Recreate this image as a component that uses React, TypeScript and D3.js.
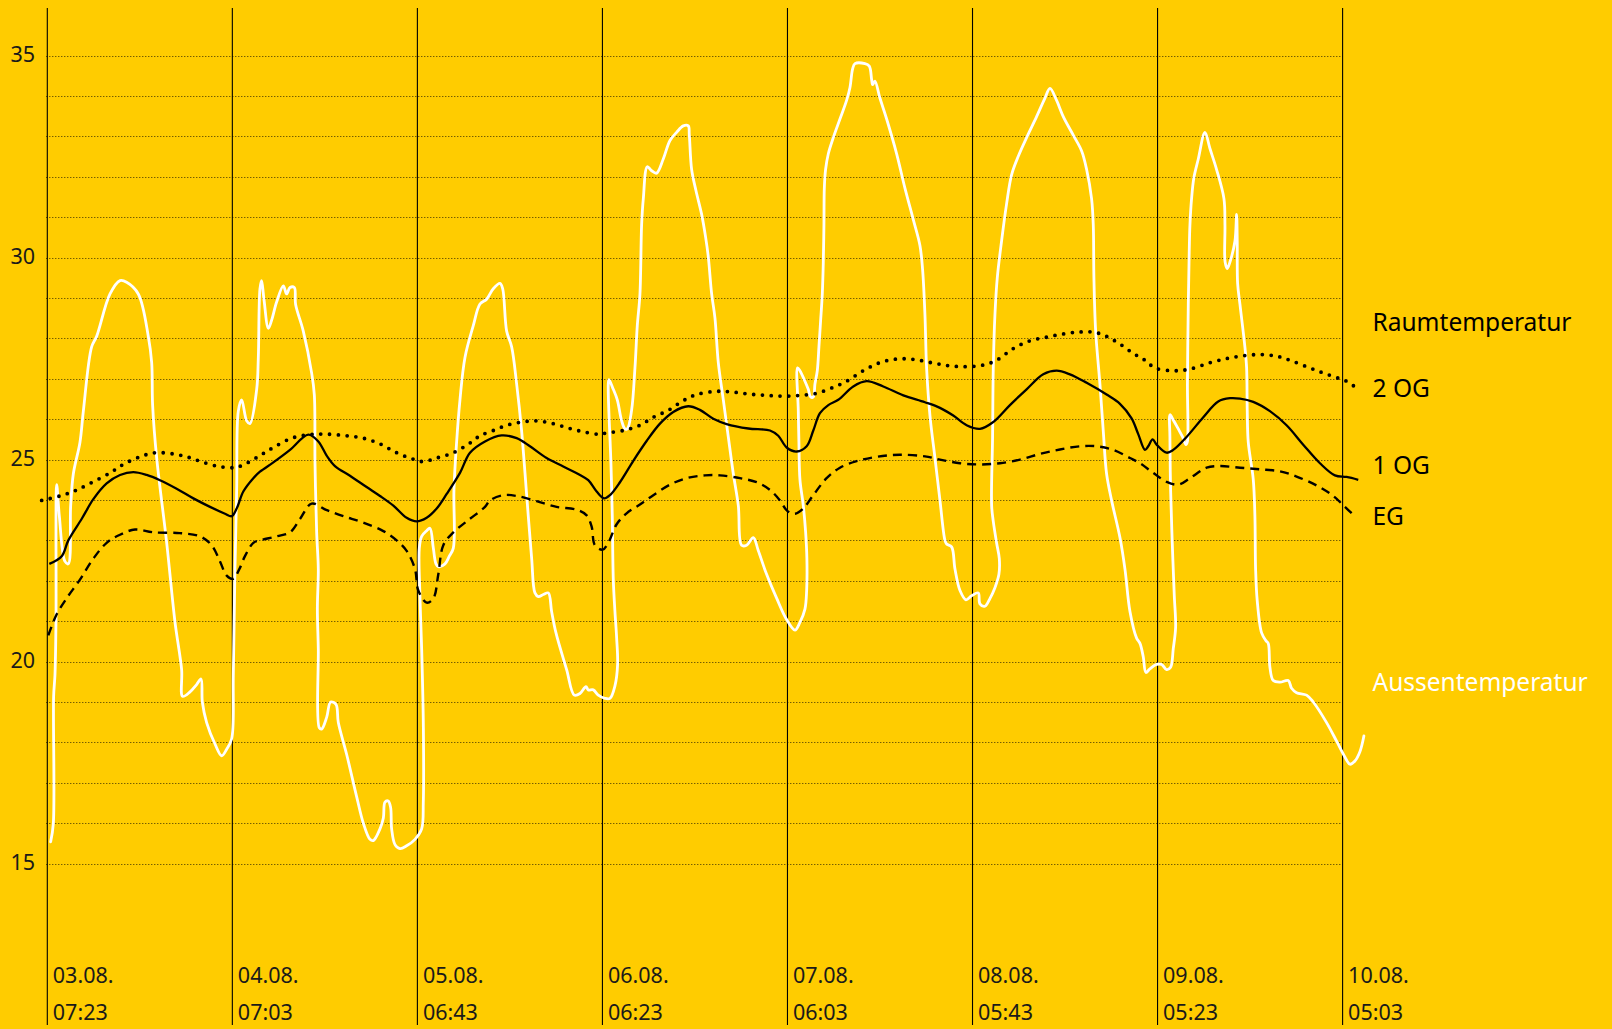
import React from "react";
import * as d3 from "d3";

// Time axis: hours after 03.08. 07:23
const START = new Date(2015, 7, 3, 7, 23);
const TICK_STEP_MIN = 23 * 60 + 40; // 23h40m between labelled lines
const TICK_COUNT = 8;
const yTickLabels = [15, 20, 25, 30, 35];
const yGridValues = d3.range(15, 36);

// Aussentemperatur [hours, °C]
const aussen: [number, number][] = [
  [0.43, 15.54], [0.77, 15.99], [0.81, 19.14], [0.98, 19.67], [1.11, 20.98], [1.2, 24.38],
  [1.54, 23.6], [2.26, 22.48], [2.69, 22.42], [2.99, 23.86], [3.33, 24.65], [4.18, 25.43],
  [4.61, 26.2], [5.67, 27.79], [6.31, 28.05], [8.02, 29.1], [9.3, 29.43], [10.15, 29.39],
  [11.64, 29.1], [12.92, 28.05], [13.35, 27.4], [13.47, 26.35], [13.99, 25.04], [15.27, 22.94],
  [16.33, 20.98], [17.18, 19.8], [17.31, 19.14], [18.25, 19.25], [19.1, 19.43], [19.66, 19.57],
  [19.83, 19.0], [20.38, 18.49], [21.45, 17.96], [22.3, 17.67], [22.94, 17.83], [23.58, 18.09],
  [23.79, 19.67], [24.0, 22.29], [24.22, 24.25], [24.43, 26.2], [24.86, 26.48], [25.5, 25.96],
  [25.92, 25.89], [26.78, 26.74], [26.99, 27.53], [27.2, 29.23], [27.41, 29.43], [27.71, 28.97],
  [28.27, 28.25], [28.69, 28.45], [29.33, 28.9], [30.19, 29.3], [30.61, 29.1], [31.04, 29.26],
  [31.59, 29.26], [31.76, 28.84], [32.74, 28.18], [33.81, 27.14], [34.15, 26.61], [34.24, 24.9],
  [34.45, 23.2], [34.66, 22.29], [34.54, 21.3], [34.66, 20.32], [34.79, 18.36], [35.09, 18.33],
  [35.73, 18.62], [36.24, 19.0], [36.92, 18.94], [37.22, 18.49], [38.29, 17.7], [39.57, 16.65],
  [40.42, 16.0], [41.27, 15.6], [41.7, 15.57], [42.55, 15.86], [42.98, 16.13], [43.19, 16.52],
  [43.61, 16.55], [43.91, 16.39], [44.04, 15.86], [44.47, 15.47], [45.11, 15.37], [45.96, 15.44],
  [47.03, 15.6], [47.88, 15.86], [48.09, 16.52], [48.1, 18.36], [47.88, 20.32], [47.66, 21.63],
  [47.58, 22.81], [47.88, 23.1], [48.52, 23.24], [48.94, 23.3], [49.37, 22.81], [49.71, 22.42],
  [50.01, 22.35], [50.86, 22.42], [51.42, 22.61], [51.93, 22.81], [52.01, 24.25], [52.35, 25.43],
  [52.78, 26.48], [53.42, 27.53], [54.49, 28.32], [55.34, 28.85], [56.19, 28.97], [57.04, 29.23],
  [57.9, 29.36], [58.24, 29.23], [58.75, 28.18], [59.39, 27.79], [60.03, 26.87], [60.67, 25.7],
  [61.31, 24.12], [61.95, 22.55], [62.37, 21.7], [62.8, 21.61], [63.44, 21.66], [64.08, 21.7],
  [64.5, 21.24], [65.06, 20.71], [66.42, 19.8], [67.4, 19.17], [68.13, 19.21], [68.89, 19.38],
  [69.19, 19.3], [69.83, 19.3], [70.47, 19.17], [71.32, 19.09], [71.96, 19.09], [72.6, 19.4],
  [72.94, 19.93], [72.82, 20.58], [72.6, 21.24], [72.39, 22.03], [72.26, 23.6], [72.09, 24.9],
  [71.75, 26.87], [71.84, 26.98], [72.39, 26.74], [72.9, 26.48], [73.46, 25.96], [73.88, 25.76],
  [74.18, 25.76], [74.73, 26.22], [75.16, 27.27], [75.46, 28.32], [75.8, 29.1], [76.01, 30.8],
  [76.23, 31.46], [76.74, 32.25], [77.29, 32.15], [77.93, 32.09], [78.78, 32.44], [79.64, 32.9],
  [80.49, 33.1], [81.34, 33.26], [81.98, 33.26], [82.11, 33.04], [82.41, 32.18], [82.96, 31.66],
  [83.69, 31.07], [84.2, 30.5], [84.54, 30.02], [84.97, 29.1], [85.39, 28.51], [85.82, 27.4],
  [86.46, 26.48], [87.1, 25.56], [87.74, 24.65], [88.38, 23.86], [88.8, 22.88], [89.44, 22.88],
  [90.3, 23.07], [90.93, 22.75], [92.0, 22.16], [93.28, 21.57], [94.56, 21.04], [95.62, 20.78],
  [96.26, 20.97], [96.9, 21.3], [97.12, 21.76], [97.15, 22.55], [96.99, 23.2], [96.69, 23.86],
  [96.26, 24.51], [96.13, 25.43], [96.05, 26.22], [95.96, 27.27], [96.26, 27.2], [96.9, 26.94],
  [97.33, 26.74], [97.63, 26.55], [97.97, 26.55], [98.18, 26.87], [98.48, 27.2], [98.69, 27.79],
  [98.91, 28.45], [99.12, 29.1], [99.25, 29.89], [99.33, 30.8], [99.38, 31.72], [99.54, 32.18],
  [99.89, 32.57], [100.53, 32.97], [101.38, 33.43], [102.23, 33.89], [102.66, 34.21], [103.0, 34.67],
  [103.3, 34.8], [104.58, 34.8], [105.13, 34.74], [105.43, 34.41], [105.56, 34.28], [105.85, 34.37],
  [106.49, 33.95], [107.35, 33.43], [108.63, 32.57], [109.69, 31.72], [110.76, 30.94], [111.61, 30.3],
  [111.95, 29.7], [112.25, 28.58], [112.46, 27.27], [112.89, 26.09], [113.53, 25.04], [114.17, 23.99],
  [114.81, 23.0], [115.02, 22.91], [115.66, 22.84], [116.09, 22.29], [116.73, 21.76], [117.49, 21.53],
  [118.22, 21.63], [119.07, 21.7], [119.28, 21.43], [119.92, 21.37], [120.56, 21.56], [121.2, 21.83],
  [121.71, 22.16], [121.76, 22.55], [121.41, 22.94], [120.99, 23.47], [120.78, 23.86], [120.9, 25.56],
  [120.99, 27.27], [121.2, 28.58], [121.5, 29.5], [122.05, 30.41], [122.69, 31.33], [123.33, 32.05],
  [124.19, 32.51], [125.25, 32.97], [126.53, 33.49], [127.6, 33.95], [128.24, 34.19], [129.09, 33.89],
  [129.94, 33.49], [131.22, 33.03], [132.29, 32.64], [132.93, 32.18], [133.56, 31.46], [133.78, 30.8],
  [133.86, 29.5], [134.08, 28.19], [134.63, 26.87], [135.06, 25.7], [135.48, 24.65], [136.12, 23.99],
  [137.19, 23.07], [137.83, 22.29], [138.47, 21.24], [139.32, 20.58], [139.75, 20.45], [140.17, 20.12],
  [140.51, 19.73], [141.02, 19.82], [141.88, 19.93], [142.52, 19.93], [143.16, 19.8], [143.67, 19.86],
  [144.01, 20.32], [144.31, 20.85], [144.14, 21.63], [143.88, 22.94], [143.67, 24.25], [143.58, 25.56],
  [143.6, 26.11], [144.01, 25.98], [144.65, 25.76], [145.2, 25.56], [145.63, 25.37], [145.8, 25.43],
  [145.82, 26.87], [145.93, 28.84], [146.05, 30.15], [146.14, 30.8], [146.35, 31.46], [146.65, 31.98],
  [147.21, 32.44], [148.06, 33.1], [148.7, 32.7], [149.55, 32.18], [150.49, 31.46], [150.62, 30.8],
  [150.64, 29.89], [150.92, 29.73], [151.26, 29.89], [151.9, 30.41], [152.11, 31.07], [152.19, 30.41],
  [152.24, 29.36], [152.54, 28.84], [153.17, 27.79], [153.39, 27.27], [153.47, 26.22], [153.6, 25.43],
  [154.24, 24.51], [154.45, 23.6], [154.54, 22.29], [154.75, 21.5], [155.31, 20.71], [155.86, 20.52],
  [156.16, 20.45], [156.37, 19.86], [156.8, 19.53], [157.65, 19.49], [158.72, 19.53], [159.14, 19.34],
  [159.78, 19.23], [161.06, 19.17], [161.91, 19.0], [163.62, 18.49], [164.9, 18.03], [165.96, 17.64],
  [166.6, 17.46], [167.24, 17.54], [167.88, 17.77], [168.39, 18.16],
];

// Raumtemperatur 2 OG [hours, °C]
const og2: [number, number][] = [
  [-0.72, 23.99], [1.62, 24.1], [3.54, 24.23], [5.46, 24.41], [8.02, 24.67], [9.72, 24.88],
  [11.86, 25.07], [13.77, 25.17], [16.12, 25.14], [17.82, 25.07], [19.53, 24.96], [21.66, 24.84],
  [23.36, 24.8], [24.22, 24.81], [25.5, 24.91], [27.2, 25.1], [28.91, 25.3], [31.25, 25.53],
  [33.6, 25.62], [35.73, 25.63], [38.29, 25.59], [40.42, 25.53], [42.55, 25.39], [44.68, 25.17],
  [46.81, 25.01], [48.09, 24.95], [49.8, 25.04], [51.93, 25.17], [54.06, 25.41], [55.34, 25.59],
  [57.04, 25.72], [58.75, 25.85], [60.67, 25.93], [62.59, 25.96], [64.72, 25.89], [66.64, 25.78],
  [68.55, 25.69], [70.47, 25.63], [71.54, 25.66], [73.67, 25.72], [75.8, 25.85], [77.51, 26.05],
  [79.42, 26.22], [81.34, 26.46], [83.05, 26.61], [85.61, 26.69], [87.74, 26.67], [89.87, 26.62],
  [92.0, 26.59], [94.13, 26.57], [96.26, 26.59], [98.39, 26.64], [100.53, 26.79], [102.23, 26.94],
  [104.36, 27.2], [106.49, 27.4], [108.63, 27.49], [110.76, 27.48], [113.32, 27.39], [115.45, 27.32],
  [117.58, 27.3], [119.71, 27.34], [121.41, 27.46], [123.55, 27.75], [125.68, 27.94], [127.81, 28.03],
  [129.94, 28.11], [132.07, 28.16], [133.99, 28.15], [135.48, 28.05], [137.19, 27.86], [138.89, 27.63],
  [140.39, 27.46], [141.66, 27.27], [144.01, 27.2], [146.14, 27.24], [148.7, 27.4], [150.83, 27.5],
  [152.96, 27.57], [155.09, 27.6], [157.22, 27.56], [158.93, 27.46], [161.06, 27.3], [162.98, 27.16],
  [164.9, 27.03], [166.18, 26.94], [167.37, 26.78],
];

// Raumtemperatur 1 OG [hours, °C]
const og1: [number, number][] = [
  [0.26, 22.42], [1.84, 22.61], [2.69, 23.0], [4.39, 23.53], [5.89, 24.02], [7.59, 24.41],
  [9.3, 24.62], [11.0, 24.69], [12.71, 24.62], [14.41, 24.49], [16.54, 24.28], [18.68, 24.04],
  [20.81, 23.83], [22.73, 23.66], [23.58, 23.6], [24.22, 23.79], [25.07, 24.21], [26.35, 24.54],
  [27.2, 24.7], [28.91, 24.93], [31.04, 25.24], [33.38, 25.62], [34.66, 25.45], [35.73, 25.1],
  [36.79, 24.84], [38.71, 24.6], [40.84, 24.32], [42.55, 24.1], [44.26, 23.86], [45.96, 23.56],
  [47.24, 23.47], [48.52, 23.56], [49.8, 23.79], [51.08, 24.15], [52.78, 24.67], [54.06, 25.17],
  [55.98, 25.45], [58.11, 25.6], [60.03, 25.53], [61.73, 25.33], [63.86, 25.04], [65.99, 24.83],
  [68.13, 24.62], [69.19, 24.49], [70.26, 24.21], [71.2, 24.04], [71.96, 24.12], [73.24, 24.44],
  [74.95, 24.97], [76.65, 25.46], [78.36, 25.89], [80.06, 26.18], [81.98, 26.32], [83.47, 26.23],
  [85.18, 26.01], [86.88, 25.88], [89.66, 25.77], [92.43, 25.72], [93.49, 25.59], [94.56, 25.3],
  [95.84, 25.2], [97.12, 25.33], [97.97, 25.72], [98.82, 26.15], [99.89, 26.35], [101.17, 26.48],
  [103.08, 26.81], [104.79, 26.94], [106.92, 26.81], [109.48, 26.59], [112.25, 26.42], [114.17, 26.28],
  [115.87, 26.09], [117.58, 25.85], [119.28, 25.76], [120.99, 25.93], [123.12, 26.35], [125.25, 26.74],
  [127.38, 27.11], [129.09, 27.2], [130.79, 27.11], [132.93, 26.9], [135.48, 26.61], [137.19, 26.38],
  [138.68, 26.02], [139.53, 25.63], [140.39, 25.24], [140.81, 25.33], [141.37, 25.5], [141.88, 25.37],
  [143.16, 25.17], [144.01, 25.24], [145.71, 25.56], [147.85, 26.05], [149.76, 26.44], [151.26, 26.52],
  [152.54, 26.51], [154.24, 26.43], [156.37, 26.2], [158.5, 25.85], [160.63, 25.37], [162.77, 24.91],
  [164.68, 24.61], [166.18, 24.57], [167.67, 24.5],
];

// Raumtemperatur EG [hours, °C]
const eg: [number, number][] = [
  [0.13, 20.65], [1.2, 21.17], [2.48, 21.57], [4.18, 22.03], [5.89, 22.55], [7.59, 22.94],
  [9.3, 23.14], [11.22, 23.27], [13.56, 23.2], [16.97, 23.18], [19.53, 23.1], [21.02, 22.88],
  [22.09, 22.48], [22.94, 22.13], [23.79, 22.05], [24.56, 22.29], [25.28, 22.61], [26.35, 22.94],
  [27.2, 23.0], [29.33, 23.1], [31.04, 23.2], [32.32, 23.53], [33.81, 23.91], [35.73, 23.75],
  [37.86, 23.6], [40.42, 23.44], [42.98, 23.23], [44.68, 23.0], [45.96, 22.74], [47.03, 22.29],
  [47.45, 21.76], [48.52, 21.46], [49.37, 21.56], [50.01, 22.16], [50.65, 22.88], [51.93, 23.2],
  [53.63, 23.47], [55.98, 23.83], [56.62, 23.99], [58.32, 24.12], [60.03, 24.1], [62.59, 23.97],
  [65.14, 23.83], [67.7, 23.76], [68.98, 23.62], [69.62, 23.34], [70.04, 22.88], [71.03, 22.77],
  [71.75, 22.94], [72.82, 23.4], [74.09, 23.67], [75.8, 23.89], [77.51, 24.12], [79.64, 24.38],
  [81.77, 24.54], [84.11, 24.61], [86.03, 24.61], [88.59, 24.54], [90.72, 24.44], [92.43, 24.25],
  [93.71, 23.99], [94.64, 23.73], [95.62, 23.66], [96.69, 23.79], [97.97, 24.12], [99.67, 24.54],
  [101.38, 24.8], [103.51, 24.96], [106.07, 25.07], [109.05, 25.12], [112.25, 25.08], [114.17, 25.0],
  [116.73, 24.91], [119.28, 24.88], [121.84, 24.91], [124.4, 25.0], [126.96, 25.14], [129.51, 25.25],
  [132.07, 25.33], [134.2, 25.33], [136.34, 25.24], [138.47, 25.04], [139.75, 24.91], [141.45, 24.67],
  [143.16, 24.45], [144.65, 24.38], [146.14, 24.54], [148.27, 24.8], [149.98, 24.84], [152.54, 24.8],
  [155.09, 24.76], [157.65, 24.71], [159.78, 24.58], [162.34, 24.36], [164.47, 24.1], [165.96, 23.83],
  [167.24, 23.6],
];

const rightLabels = [
  { text: "Raumtemperatur", temp: 28.19, color: "#000" },
  { text: "2 OG", temp: 26.56, color: "#000" },
  { text: "1 OG", temp: 24.64, color: "#000" },
  { text: "EG", temp: 23.39, color: "#000" },
  { text: "Aussentemperatur", temp: 19.26, color: "#fff" },
];

const W = 1612;
const H = 1029;
const BG = "#FFCC00";

const toDate = (h: number) => new Date(START.getTime() + h * 3600 * 1000);
const tickDates = d3.range(TICK_COUNT).map((k) => new Date(START.getTime() + k * TICK_STEP_MIN * 60000));

const x = d3.scaleTime().domain([tickDates[0], tickDates[TICK_COUNT - 1]]).range([47.3, 1342.6]);
const y = d3.scaleLinear().domain([15, 35]).range([863.6, 55.6]);

const line = d3
  .line<[number, number]>()
  .x((d) => x(toDate(d[0])))
  .y((d) => y(d[1]))
  .curve(d3.curveCatmullRom.alpha(0.5));

const fmtDay = d3.timeFormat("%d.%m.");
const fmtTime = d3.timeFormat("%H:%M");
const FONT = "'Noto Sans', 'Open Sans', sans-serif";

export default function App() {
  const x0 = x.range()[0];
  const x1 = x.range()[1];
  return (
    <svg
      width={W}
      height={H}
      viewBox={`0 0 ${W} ${H}`}
      style={{ position: "absolute", left: 0, top: 0, display: "block", background: BG }}
    >
      <rect x={0} y={0} width={W} height={H} fill={BG} />
      {/* horizontal dotted grid */}
      {yGridValues.map((v) => (
        <line
          key={"g" + v}
          x1={x0 - 1}
          x2={x1}
          y1={Math.round(y(v)) + 0.5}
          y2={Math.round(y(v)) + 0.5}
          stroke="#1a1400"
          strokeWidth={1}
          strokeDasharray="1,2"
          opacity={0.85}
        />
      ))}
      {/* vertical time lines */}
      {tickDates.map((d, i) => (
        <line key={"v" + i} x1={x(d)} x2={x(d)} y1={8} y2={1025} stroke="#000" strokeWidth={1.1} />
      ))}
      {/* y labels */}
      {yTickLabels.map((v) => (
        <text key={"yl" + v} x={35} y={y(v) + 6.5} textAnchor="end" fontFamily={FONT} fontSize={21.5} fill="#1a1a1a">
          {v}
        </text>
      ))}
      {/* x labels */}
      {tickDates.map((d, i) => (
        <g key={"xl" + i} fontFamily={FONT} fontSize={21.5} fill="#1a1a1a">
          <text x={x(d) + 5.5} y={983.3}>{fmtDay(d)}</text>
          <text x={x(d) + 5.5} y={1020}>{fmtTime(d)}</text>
        </g>
      ))}
      {/* series */}
      <path d={line(aussen) || ""} fill="none" stroke="#fff" strokeWidth={2.8} strokeLinejoin="round" strokeLinecap="round" />
      <path d={line(eg) || ""} fill="none" stroke="#000" strokeWidth={2.4} strokeDasharray="9,6" />
      <path d={line(og1) || ""} fill="none" stroke="#000" strokeWidth={2.3} strokeLinejoin="round" />
      <path d={line(og2) || ""} fill="none" stroke="#000" strokeWidth={3.8} strokeDasharray="0,8.8" strokeLinecap="round" />
      {/* right labels */}
      {rightLabels.map((l) => (
        <text key={l.text} x={1372.5} y={y(l.temp)} fontFamily={FONT} fontSize={24.5} fill={l.color}>
          {l.text}
        </text>
      ))}
    </svg>
  );
}
